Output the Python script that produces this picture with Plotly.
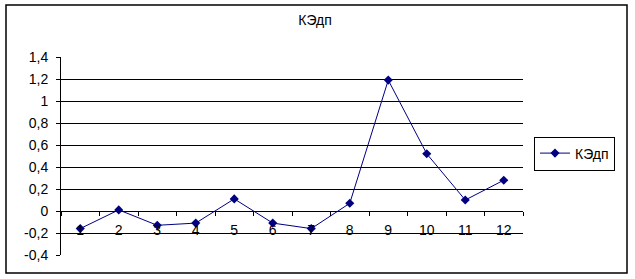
import plotly.graph_objects as go

categories = [1, 2, 3, 4, 5, 6, 7, 8, 9, 10, 11, 12]
values = [-0.16, 0.01, -0.13, -0.11, 0.11, -0.11, -0.16, 0.07, 1.19, 0.52, 0.10, 0.28]
series_name = "КЭдп"
y_tickvals = [-0.4, -0.2, 0, 0.2, 0.4, 0.6, 0.8, 1.0, 1.2, 1.4]
y_ticktext = ["-0,4", "-0,2", "0", "0,2", "0,4", "0,6", "0,8", "1", "1,2", "1,4"]
x_ticktext = [str(c) for c in categories]

W, H = 635, 279
L, R, T, B = 61, 523, 57, 255
ymin, ymax = -0.4, 1.4
font = "Liberation Sans, Arial, sans-serif"
fs = 14

fig = go.Figure()
fig.add_trace(go.Scatter(
    x=categories, y=values, mode="lines+markers", name=series_name,
    line=dict(color="#000080", width=1),
    marker=dict(symbol="diamond", size=7, color="#000080"),
))

fig.update_layout(
    width=W, height=H,
    margin=dict(l=L, r=W - R, t=T, b=H - B, pad=0),
    paper_bgcolor="white", plot_bgcolor="white",
    font=dict(family=font, size=fs, color="black"),
    title=dict(text=series_name, x=315 / W, xref="container", xanchor="center",
               y=1 - 20 / H, yref="container", yanchor="middle",
               font=dict(family=font, size=fs, color="black")),
    showlegend=True,
    legend=dict(x=(534 - L) / (R - L), xanchor="left",
                y=(B - 153.5) / (B - T), yanchor="middle",
                bordercolor="black", borderwidth=1, bgcolor="white",
                font=dict(family=font, size=fs, color="black"),
                itemwidth=30, tracegroupgap=0),
    xaxis=dict(
        range=[0.5, 12.5], tickmode="array", tickvals=categories, ticktext=x_ticktext,
        ticks="", showgrid=False, zeroline=False,
        showline=True, linecolor="black", linewidth=1,
        anchor="free", position=(0 - ymin) / (ymax - ymin),
        minor=dict(tick0=0.5, dtick=1, ticks="outside", ticklen=4, tickcolor="black", showgrid=False),
        ticklabelstandoff=6,
        tickfont=dict(family=font, size=fs, color="black"),
    ),
    yaxis=dict(
        range=[ymin, ymax], tickmode="array", tickvals=y_tickvals, ticktext=y_ticktext,
        ticks="outside", ticklen=4, tickcolor="black",
        showgrid=True, gridcolor="black", gridwidth=1, zeroline=False,
        showline=True, linecolor="black", linewidth=1,
        ticklabelstandoff=5,
        tickfont=dict(family=font, size=fs, color="black"),
    ),
)

fig.add_shape(type="rect", xref="paper", yref="paper",
              x0=(6 - L) / (R - L), x1=(627 - L) / (R - L),
              y0=(B - 273) / (B - T), y1=(B - 5) / (B - T),
              line=dict(color="black", width=1.5), fillcolor="rgba(0,0,0,0)", layer="above")

fig.write_html("out.html")
